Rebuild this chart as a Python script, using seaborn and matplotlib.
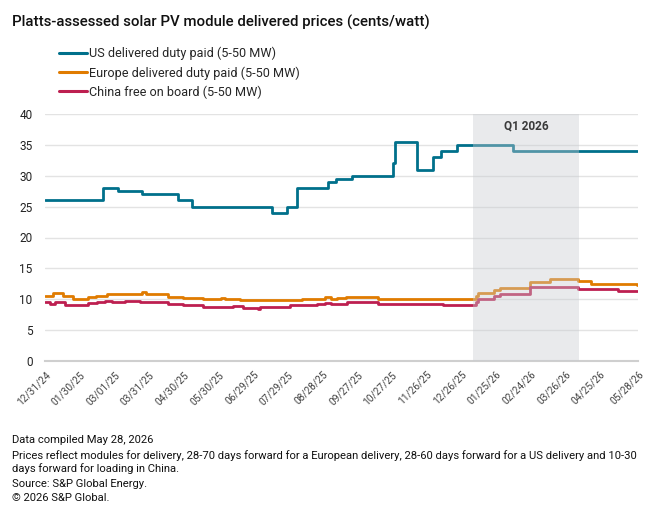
import matplotlib
matplotlib.use("Agg")
import matplotlib.pyplot as plt
import seaborn as sns
import pandas as pd
from matplotlib.lines import Line2D

# ---------------- data (step-change points) ----------------
us_dates = ["2024-12-31", "2025-02-19", "2025-03-04", "2025-03-25", "2025-04-25",
            "2025-05-07", "2025-07-15", "2025-07-28", "2025-08-06", "2025-09-02",
            "2025-09-09", "2025-09-23", "2025-10-28", "2025-10-30", "2025-11-18",
            "2025-12-02", "2025-12-09", "2025-12-22", "2026-02-09", "2026-05-28"]
us_values = [26, 28, 27.5, 27, 26, 25, 24, 25, 28, 29, 29.5, 30, 32, 35.5, 31,
             33, 34, 35, 34, 34]

eu_dates = ["2024-12-31", "2025-01-07", "2025-01-16", "2025-01-24", "2025-02-06",
            "2025-02-13", "2025-02-23", "2025-03-10", "2025-03-25", "2025-03-28",
            "2025-04-16", "2025-04-29", "2025-05-17", "2025-06-01", "2025-06-05",
            "2025-06-12", "2025-06-18", "2025-07-25", "2025-08-10", "2025-08-30",
            "2025-09-04", "2025-09-10", "2025-09-17", "2025-10-15", "2026-01-05",
            "2026-01-08", "2026-01-10", "2026-01-23", "2026-01-29", "2026-02-24",
            "2026-03-13", "2026-04-06", "2026-04-17", "2026-05-27", "2026-05-28"]
eu_values = [10.5, 11.0, 10.5, 10.1, 10.4, 10.6, 10.8, 10.9, 11.1, 10.9,
             10.4, 10.2, 10.0, 10.2, 10.0, 10.1, 9.8, 9.9, 10.1, 10.3,
             10.1, 10.2, 10.3, 10.0, 10.0, 10.5, 11.0, 11.5, 11.8, 12.8,
             13.3, 13.0, 12.5, 12.3, 12.3]

cn_dates = ["2024-12-31", "2025-01-04", "2025-01-09", "2025-01-17", "2025-02-06",
            "2025-02-14", "2025-02-21", "2025-02-27", "2025-03-10", "2025-03-23",
            "2025-04-16", "2025-04-29", "2025-05-17", "2025-06-01", "2025-06-12",
            "2025-06-20", "2025-07-03", "2025-07-05", "2025-07-31", "2025-08-23",
            "2025-08-30", "2025-09-04", "2025-09-10", "2025-09-18", "2025-10-15",
            "2025-12-10", "2026-01-05", "2026-01-08", "2026-01-10", "2026-01-23",
            "2026-01-29", "2026-02-24", "2026-04-06", "2026-05-11", "2026-05-28"]
cn_values = [9.6, 9.2, 9.6, 9.1, 9.35, 9.5, 9.7, 9.5, 9.7, 9.5,
             9.2, 9.1, 8.8, 8.75, 8.9, 8.6, 8.5, 8.8, 9.1, 9.2,
             9.4, 9.2, 9.3, 9.5, 9.3, 9.0, 9.0, 9.5, 10.0, 10.6,
             10.8, 12.0, 11.6, 11.35, 11.35]

series_names = ["US delivered duty paid (5-50 MW)",
                "Europe delivered duty paid (5-50 MW)",
                "China free on board (5-50 MW)"]
series_colors = ["#00708b", "#e07b00", "#bd1f50"]

tick_labels = ["12/31/24", "01/30/25", "03/01/25", "03/31/25", "04/30/25",
               "05/30/25", "06/29/25", "07/29/25", "08/28/25", "09/27/25",
               "10/27/25", "11/26/25", "12/26/25", "01/25/26", "02/24/26",
               "03/26/26", "04/25/26", "05/28/26"]
y_ticks = [0, 5, 10, 15, 20, 25, 30, 35, 40]

q1_start, q1_end = "2026-01-05", "2026-04-07"
q1_label = "Q1 2026"

title = "Platts-assessed solar PV module delivered prices (cents/watt)"
footer = ["Data compiled May 28, 2026",
          "Prices reflect modules for delivery, 28-70 days forward for a European delivery, 28-60 days forward for a US delivery and 10-30",
          "days forward for loading in China.",
          "Source: S&P Global Energy.",
          "\u00a9 2026 S&P Global."]

# ---------------- build long-form table ----------------
frames = []
for name, d, v in zip(series_names, [us_dates, eu_dates, cn_dates],
                      [us_values, eu_values, cn_values]):
    frames.append(pd.DataFrame({"date": pd.to_datetime(d), "value": v, "series": name}))
df = pd.concat(frames, ignore_index=True)

# ---------------- plot ----------------
sns.set_theme(style="white")
plt.rcParams["font.family"] = ["Roboto", "DejaVu Sans"]

fig = plt.figure(figsize=(6.6, 5.13), dpi=100)
ax = fig.add_axes([45 / 660, 1 - 361 / 513, 593 / 660, 247 / 513])

sns.lineplot(data=df, x="date", y="value", hue="series", hue_order=series_names,
             palette=series_colors, estimator=None, drawstyle="steps-post",
             linewidth=2.0, legend=False, ax=ax, zorder=3)

ax.axvspan(pd.Timestamp(q1_start), pd.Timestamp(q1_end), color="#c9ccd1",
           alpha=0.4, lw=0, zorder=4)
ax.text(pd.Timestamp(q1_start) + (pd.Timestamp(q1_end) - pd.Timestamp(q1_start)) / 2,
        38.0, q1_label, ha="center", va="center", fontsize=8.5,
        fontweight="bold", color="#3a3a3a", zorder=5)

ax.set_ylim(0, 40)
ax.set_yticks(y_ticks)
ax.set_xlim(pd.Timestamp("2024-12-31"), pd.Timestamp("2026-05-28"))
tick_pos = [pd.to_datetime(t, format="%m/%d/%y") for t in tick_labels]
ax.set_xticks(tick_pos)
ax.set_xticklabels(tick_labels, rotation=45, ha="right", rotation_mode="anchor",
                   fontsize=7.3, color="#444444")
ax.tick_params(axis="x", length=0, pad=6)
ax.tick_params(axis="y", length=0, pad=9, labelsize=8.5, labelcolor="#222222")
ax.set_xlabel("")
ax.set_ylabel("")

ax.grid(axis="y", color="#e3e3e3", linewidth=1.0, zorder=0)
ax.grid(axis="x", visible=False)
for s in ["top", "right", "left"]:
    ax.spines[s].set_visible(False)
ax.spines["bottom"].set_color("#cfcfcf")
ax.spines["bottom"].set_linewidth(1.5)
ax.set_axisbelow(True)

handles = [Line2D([0], [0], color=c, lw=2.2) for c in series_colors]
fig.legend(handles, series_names, loc="upper left", bbox_to_anchor=(59 / 660, 1 - 47 / 513),
           frameon=False, fontsize=9.1, handlelength=2.2, handletextpad=0.2,
           labelspacing=0.46, borderaxespad=0, borderpad=0)

fig.text(12 / 660, 1 - 22 / 513, title, fontsize=10.8, fontweight="medium",
         color="#111111", va="center", ha="left")

fy = [440, 456, 469, 484, 498]
for t, y in zip(footer, fy):
    fig.text(12 / 660, 1 - y / 513, t, fontsize=8.1, color="#111111",
             va="center", ha="left")

fig.savefig("out.png", dpi=100)
